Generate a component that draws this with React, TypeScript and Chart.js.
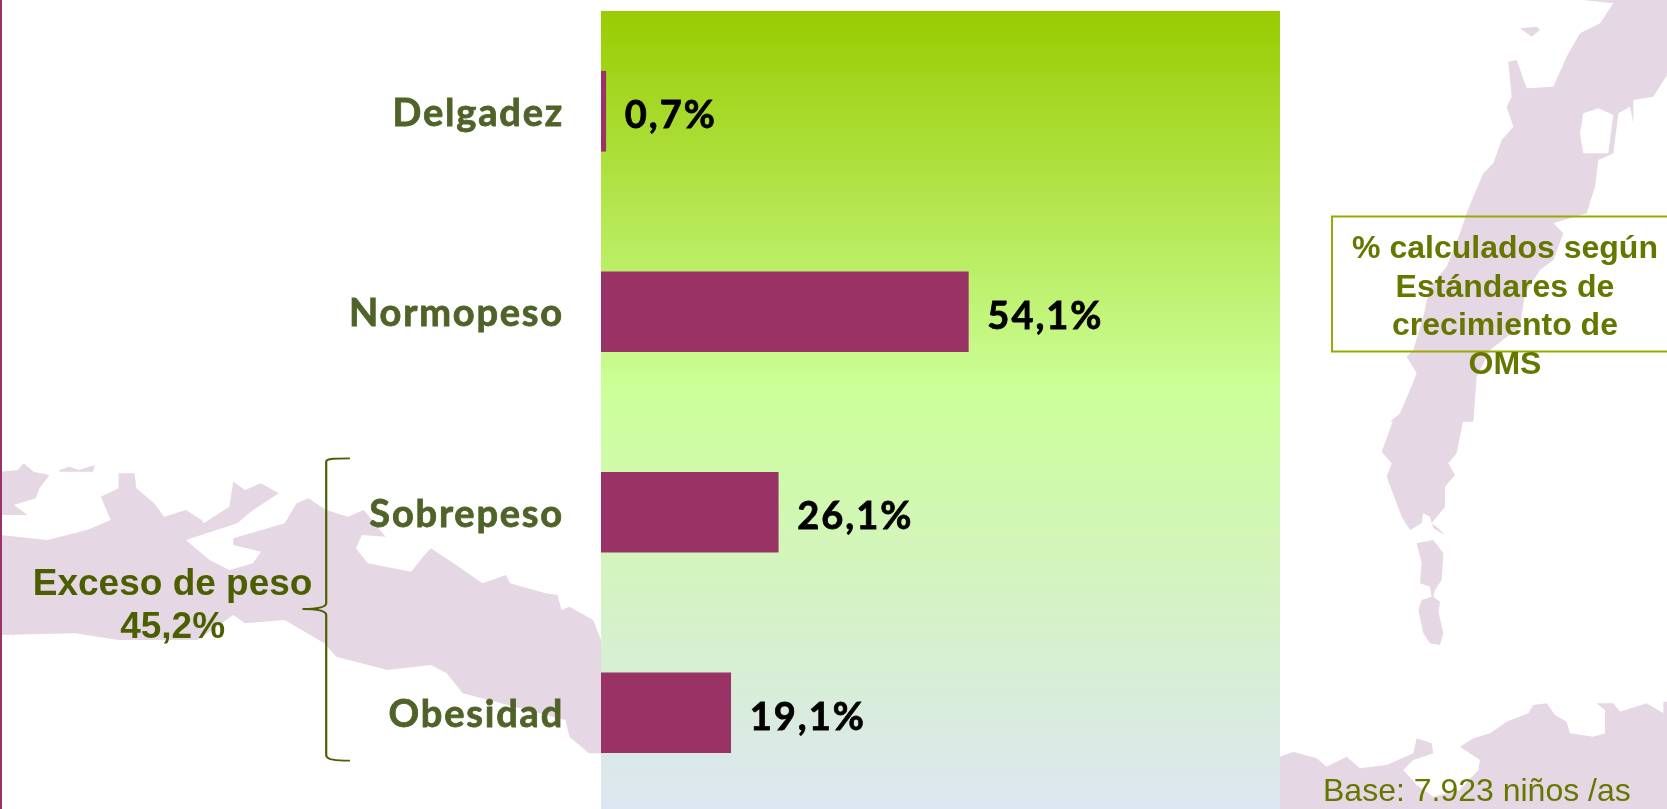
import React, { useEffect, useRef } from "react";
import { Chart, registerables } from "chart.js";

Chart.register(...registerables);

const categories = ["Delgadez", "Normopeso", "Sobrepeso", "Obesidad"];
const values = [0.7, 54.1, 26.1, 19.1];
const valueLabels = ["0,7%", "54,1%", "26,1%", "19,1%"];
const axisMax = 100;
const bracketLines = ["Exceso de peso", "45,2%"];
const noteLines = ["% calculados según", "Estándares de", "crecimiento de", "OMS"];
const baseNote = "Base: 7.923 niños /as";

const MAP_COLOR = "#E5D7E4";
const LEFT_SX = 1 / 2.529;
const RIGHT_SX = 1 / 3;
const mapShapes: [number, number, number, string][] = [
  [0, 420, LEFT_SX, "M0,155 L45,150 60,130 85,155 125,165 100,205 90,235 35,255 70,285 0,285 Z"],
  [0, 420, LEFT_SX, "M150,150 L175,140 200,150 240,135 235,155 150,155 Z"],
  [0, 420, LEFT_SX, "M0,345 L120,360 220,330 280,300 255,230 300,205 300,160 340,160 345,205 390,250 415,290 470,270 510,300 515,310 580,260 590,185 620,210 660,190 705,220 640,270 600,310 470,360 530,420 580,450 640,430 660,395 590,375 590,355 720,310 750,250 780,235 825,270 880,290 920,270 975,350 915,345 900,385 930,430 1040,455 1070,410 1090,385 1160,440 1220,490 1280,465 1290,490 1380,520 1410,525 1420,570 1440,560 1500,600 1520,660 1560,1000 1490,1000 1440,950 1430,900 1170,820 1130,760 1090,735 980,750 850,710 820,670 720,600 620,610 590,585 500,660 300,660 190,640 0,645 Z"],
  [1200, 0, RIGHT_SX, "M1150,0 L1240,10 1200,70 1140,100 1100,170 1060,260 980,265 950,180 925,185 935,290 920,320 940,380 905,420 880,490 850,520 820,590 800,640 780,700 740,800 690,860 670,950 640,1050 620,1070 650,1120 630,1170 600,1240 570,1265 820,1265 830,1130 870,1050 960,980 975,880 1020,810 1060,780 1090,700 1060,670 1160,640 1185,560 1195,480 1240,460 1255,340 1290,320 1300,370 1300,300 1360,290 1401,225 1401,0 Z"],
  [1200, 0, RIGHT_SX, "M960,85 L1010,80 1020,90 995,110 Z"],
  [1200, 420, RIGHT_SX, "M580,0 L545,95 575,130 560,170 605,290 630,330 665,310 670,280 690,290 700,325 735,345 715,325 695,310 735,260 735,200 765,165 745,130 770,100 790,0 Z"],
  [1200, 420, RIGHT_SX, "M650,370 L700,360 730,400 725,480 705,510 700,530 720,545 715,575 730,640 720,675 690,670 670,640 655,570 665,540 695,530 690,500 660,490 665,430 Z"],
  [1200, 420, RIGHT_SX, "M240,1170 L240,1010 280,995 350,1015 380,1040 440,1010 480,1045 560,1035 640,1000 650,955 695,970 700,1000 640,1020 610,1050 650,1095 700,1130 780,1110 835,1050 840,1020 780,980 820,955 870,940 920,905 985,880 1000,855 1040,850 1065,885 1100,905 1110,940 1180,950 1215,940 1215,870 1190,850 1240,850 1260,875 1340,850 1390,880 1390,845 1401,845 1401,1170 Z"],
];
const mapHoles: [number, number, number, string][] = [
  [1200, 0, RIGHT_SX, "M1150,340 L1195,325 1240,345 1225,460 1150,460 1140,400 Z"],
];
const bracePath = "M885,115 C850,115 825,115 825,125 L825,550 C825,565 790,567 765,567 C790,567 825,570 825,585 L825,1005 C825,1020 850,1022 885,1022";

const backdrop = {
  id: "backdrop",
  beforeDraw(chart: any) {
    const { ctx, chartArea: a, width, height } = chart;
    ctx.save();
    ctx.fillStyle = "#FFFFFF";
    ctx.fillRect(0, 0, width, height);
    const paint = (list: [number, number, number, string][], color: string) => {
      ctx.fillStyle = color;
      list.forEach(([ox, oy, sx, d]) => {
        ctx.save();
        ctx.translate(ox, oy);
        ctx.scale(sx, 1 / 3);
        ctx.fill(new Path2D(d));
        ctx.restore();
      });
    };
    paint(mapShapes, MAP_COLOR);
    paint(mapHoles, "#FFFFFF");
    const g = ctx.createLinearGradient(0, a.top, 0, a.bottom);
    g.addColorStop(0, "#99CC00");
    g.addColorStop(0.475, "#CCFF99");
    g.addColorStop(1, "#DDE6F3");
    ctx.fillStyle = g;
    ctx.fillRect(a.left, a.top, a.right - a.left, a.bottom - a.top);
    ctx.fillStyle = "#993366";
    ctx.fillRect(0, 0, 2, height);
    ctx.restore();
    ctx.letterSpacing = "1.8px";
  },
};

const overlay = {
  id: "overlay",
  afterDraw(chart: any) {
    const { ctx } = chart;
    const meta = chart.getDatasetMeta(0);
    ctx.save();
    ctx.textBaseline = "alphabetic";

    ctx.fillStyle = "#000000";
    ctx.strokeStyle = "#000000";
    ctx.lineWidth = 0.8;
    ctx.textAlign = "left";
    ctx.font = 'bold 38px Lato';
    ctx.letterSpacing = "2px";
    valueLabels.forEach((t, i) => {
      const el = meta.data[i];
      ctx.fillText(t, el.x + 19, el.y + 17);
      ctx.strokeText(t, el.x + 19, el.y + 17);
    });
    ctx.letterSpacing = "0px";

    // brace
    ctx.save();
    ctx.translate(0, 420);
    ctx.scale(LEFT_SX, 1 / 3);
    ctx.strokeStyle = "#4B5F00";
    ctx.lineWidth = 5.5;
    ctx.stroke(new Path2D(bracePath));
    ctx.restore();

    // bracket label
    ctx.fillStyle = "#4B5F00";
    ctx.textAlign = "center";
    ctx.font = 'bold 37px "Liberation Sans"';
    ctx.fillText(bracketLines[0], 172.6, 595);
    ctx.fillText(bracketLines[1], 172.6, 638);

    // note box
    ctx.strokeStyle = "#99AA00";
    ctx.lineWidth = 2;
    ctx.beginPath();
    ctx.moveTo(1668, 216.5);
    ctx.lineTo(1332, 216.5);
    ctx.lineTo(1332, 351.5);
    ctx.lineTo(1668, 351.5);
    ctx.stroke();
    ctx.fillStyle = "#667700";
    ctx.font = 'bold 32px "Liberation Sans"';
    noteLines.forEach((t, i) => ctx.fillText(t, 1505, 258 + i * 38.5));

    // base
    ctx.textAlign = "left";
    ctx.font = '32px "Liberation Sans"';
    ctx.fillText(baseNote, 1323, 801);
    ctx.restore();
  },
};

export default function App() {
  const ref = useRef<HTMLCanvasElement>(null);
  useEffect(() => {
    const chart = new Chart(ref.current!, {
      type: "bar",
      data: {
        labels: categories,
        datasets: [
          {
            data: values,
            backgroundColor: "#993366",
            barThickness: 80,
            borderWidth: 0,
          },
        ],
      },
      options: {
        indexAxis: "y",
        responsive: false,
        animation: false,
        layout: { padding: { top: 11, right: 387, bottom: 0, left: 0 } },
        plugins: { legend: { display: false }, tooltip: { enabled: false } },
        scales: {
          x: { display: false, min: 0, max: axisMax },
          y: {
            afterFit(s: any) {
              s.width = 601;
              s.paddingTop = 0;
              s.paddingBottom = 0;
              if (!s.__shifted) {
                s.__shifted = true;
                const drawLabels = s.drawLabels;
                s.drawLabels = function (area: any) {
                  s.ctx.save();
                  s.ctx.translate(0, 2);
                  drawLabels.call(s, area);
                  s.ctx.restore();
                };
              }
            },
            grid: { display: false },
            border: { display: false },
            ticks: {
              color: "#4F6228",
              padding: 29,
              textStrokeColor: "#4F6228",
              textStrokeWidth: 0.8,
              font: { family: "Lato", weight: "bold", size: 38 },
            },
          },
        },
      },
      plugins: [backdrop, overlay],
    } as any);
    return () => chart.destroy();
  }, []);
  return (
    <div style={{ position: "fixed", left: 0, top: 0, width: 1667, height: 809, overflow: "hidden", background: "#fff" }}>
      <canvas ref={ref} width={1667} height={813} style={{ display: "block" }} />
    </div>
  );
}
